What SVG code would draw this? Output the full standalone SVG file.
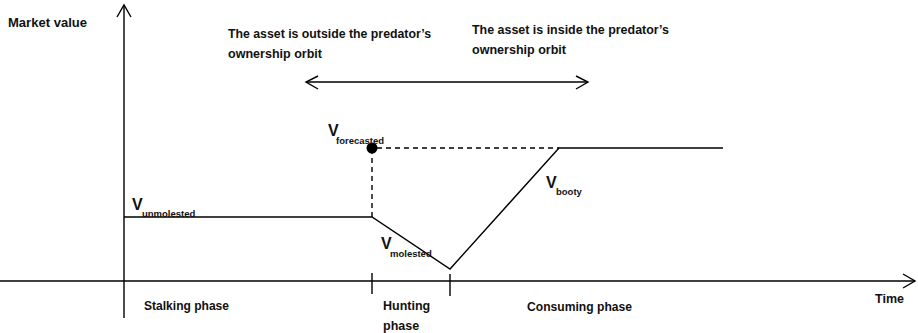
<svg xmlns="http://www.w3.org/2000/svg" width="918" height="333" viewBox="0 0 918 333">
<style>
text{font-family:"Liberation Sans",Arial,sans-serif;font-weight:bold;font-size:12.5px;fill:#111}
.big{font-size:16px}
.sub{font-size:9.5px}
.ln{stroke:#000;stroke-width:1.4;fill:none}
.dash{stroke:#000;stroke-width:1.4;fill:none;stroke-dasharray:5,4}
</style>
<rect width="918" height="333" fill="#fff"/>
<g id="axes">
<line class="ln" x1="124" y1="5" x2="124" y2="318"/>
<polyline class="ln" points="117,17 124,5 131,17"/>
<line class="ln" x1="0" y1="281" x2="915" y2="281"/>
<polyline class="ln" points="903,274 915,281 903,288"/>
<line class="ln" x1="372" y1="273" x2="372" y2="294"/>
<line class="ln" x1="450" y1="274" x2="450" y2="296"/>
</g>
<g id="connectors">
<line class="ln" x1="306" y1="82" x2="588" y2="82"/>
<polyline class="ln" points="318,76 306,82 318,89"/>
<polyline class="ln" points="576,76 588,82 576,89"/>
<polyline class="ln" points="124,217 372,217 450,269 559,148 723,148"/>
<line class="dash" x1="372" y1="217" x2="372" y2="152"/>
<line class="dash" x1="377" y1="148" x2="559" y2="148"/>
</g>
<g id="forecast-dot"><circle cx="372" cy="148" r="5.5" fill="#000"/></g>
<g id="labels">
<text x="8" y="27" textLength="79" lengthAdjust="spacingAndGlyphs">Market value</text>
<text x="228" y="38" textLength="203" lengthAdjust="spacingAndGlyphs">The asset is outside the predator’s</text>
<text x="228" y="58" textLength="94" lengthAdjust="spacingAndGlyphs">ownership orbit</text>
<text x="472" y="34" textLength="197" lengthAdjust="spacingAndGlyphs">The asset is inside the predator’s</text>
<text x="472" y="54" textLength="94" lengthAdjust="spacingAndGlyphs">ownership orbit</text>
<text x="328" y="136" class="big">V</text><text x="336" y="144" class="sub">forecasted</text>
<text x="132" y="210" class="big">V</text><text x="142" y="217" class="sub">unmolested</text>
<text x="381" y="249" class="big">V</text><text x="390" y="257" class="sub">molested</text>
<text x="546" y="188" class="big">V</text><text x="556" y="195" class="sub">booty</text>
<text x="144" y="310" textLength="85" lengthAdjust="spacingAndGlyphs">Stalking phase</text>
<text x="383" y="310">Hunting</text>
<text x="383" y="330">phase</text>
<text x="527" y="311" textLength="105" lengthAdjust="spacingAndGlyphs">Consuming phase</text>
<text x="875" y="303">Time</text>
</g>
</svg>
